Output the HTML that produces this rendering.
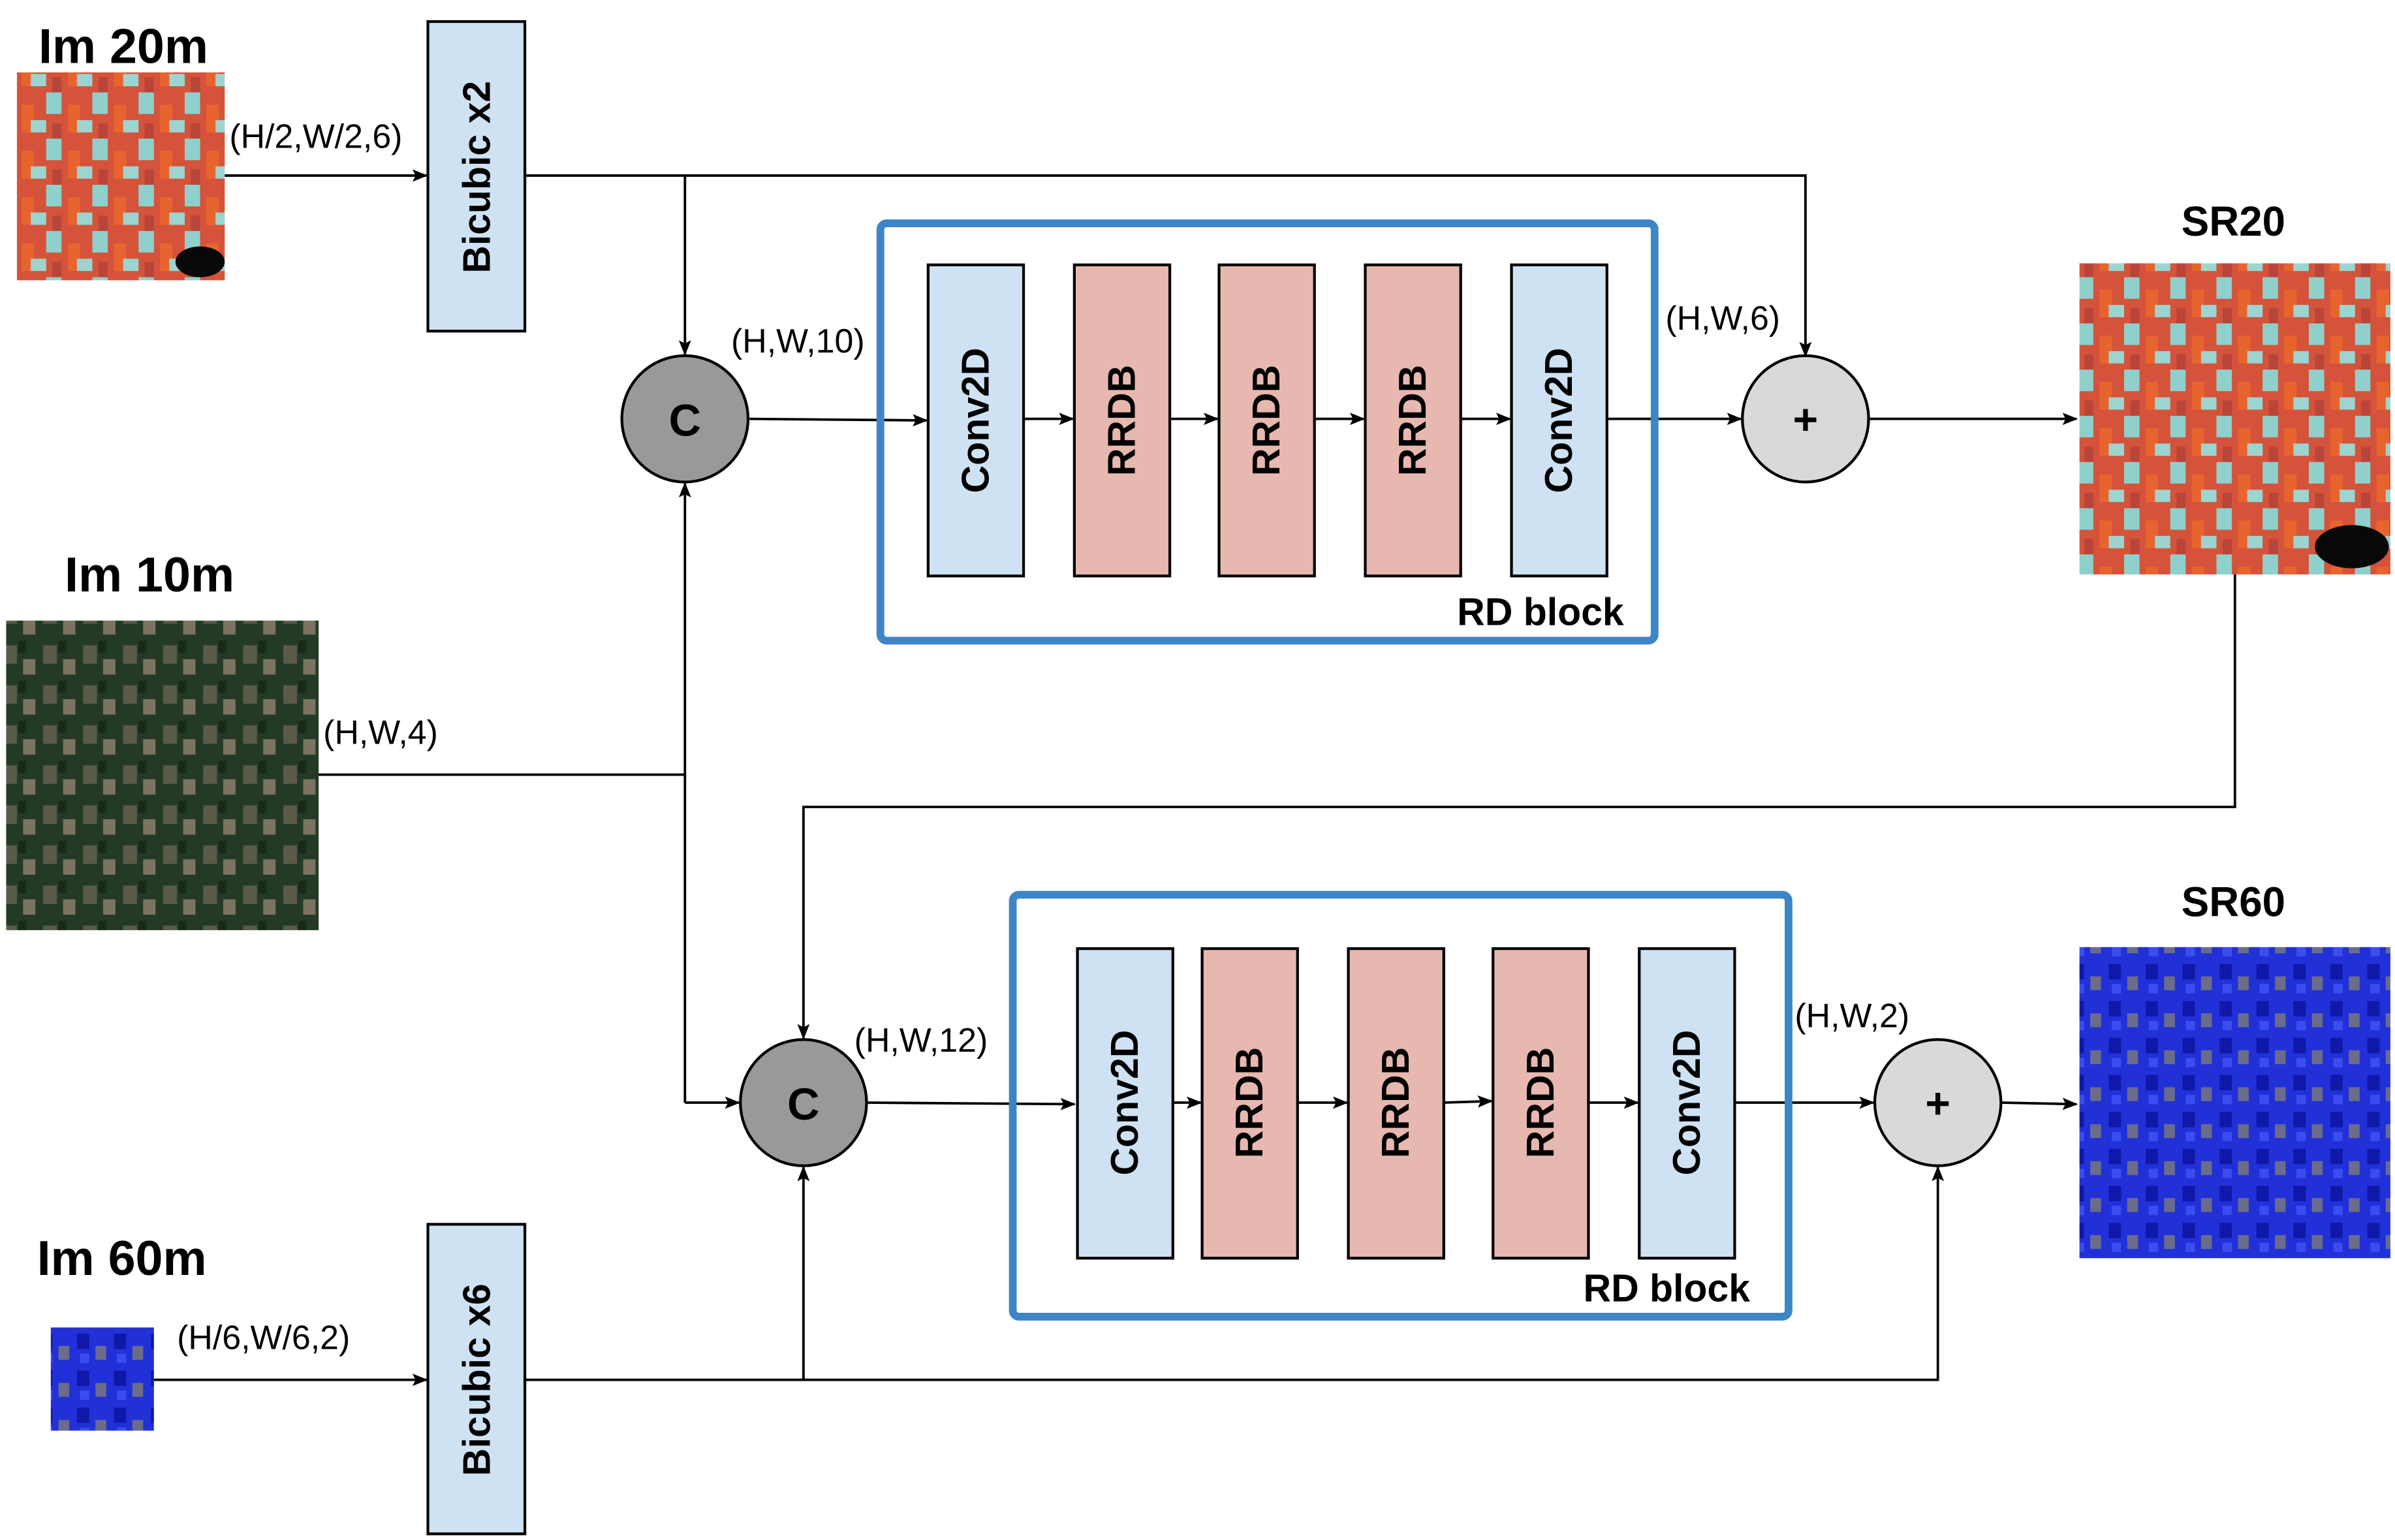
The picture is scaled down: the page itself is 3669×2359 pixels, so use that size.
<!DOCTYPE html>
<html><head><meta charset="utf-8"><style>html,body{margin:0;padding:0;background:#fff}svg{display:block}</style></head>
<body>
<svg width="3669" height="2359" viewBox="0 0 1556 1000" preserveAspectRatio="none" xmlns="http://www.w3.org/2000/svg" font-family="Liberation Sans, Arial, sans-serif">
<defs>
<marker id="a" markerWidth="10" markerHeight="8" refX="9" refY="4" orient="auto" markerUnits="userSpaceOnUse"><path d="M0,0 L10,4 L0,8 L2,4 z" fill="#000"/></marker>
<pattern id="p20" width="30" height="30" patternUnits="userSpaceOnUse">
<rect width="30" height="30" fill="#d5533a"/><rect x="0" y="0" width="10" height="14" fill="#8fd0cc"/><rect x="14" y="8" width="8" height="18" fill="#e8642f"/><rect x="20" y="18" width="10" height="8" fill="#9cd4cf"/><rect x="4" y="20" width="6" height="10" fill="#b8453a"/></pattern>
<pattern id="p10" width="26" height="26" patternUnits="userSpaceOnUse">
<rect width="26" height="26" fill="#233a26"/><rect x="2" y="3" width="9" height="12" fill="#5a5a48"/><rect x="15" y="12" width="8" height="10" fill="#7a7460"/><rect x="12" y="0" width="5" height="8" fill="#172a19"/></pattern>
<pattern id="p60" width="24" height="24" patternUnits="userSpaceOnUse">
<rect width="24" height="24" fill="#2230d8"/><rect x="2" y="2" width="8" height="10" fill="#1018a8"/><rect x="14" y="10" width="7" height="9" fill="#6a6c8a"/><rect x="4" y="15" width="6" height="6" fill="#3a4ef0"/></pattern>
</defs>
<g font-weight="bold" font-size="32">
<text x="25" y="41">Im 20m</text>
<text x="42" y="384">Im 10m</text>
<text x="24" y="828">Im 60m</text>
<text x="1451" y="153" text-anchor="middle" font-size="27">SR20</text>
<text x="1451" y="595" text-anchor="middle" font-size="27">SR60</text>
</g>
<rect x="11" y="47" width="135" height="135" fill="url(#p20)"/>
<ellipse cx="130" cy="170" rx="16" ry="10" fill="#080808"/>
<rect x="4" y="403" width="203" height="201" fill="url(#p10)"/>
<rect x="33" y="862" width="67" height="67" fill="url(#p60)"/>
<rect x="1351" y="171" width="202" height="202" fill="url(#p20)"/>
<ellipse cx="1528" cy="355" rx="24" ry="14" fill="#080808"/>
<rect x="1351" y="615" width="202" height="202" fill="url(#p60)"/>
<g font-size="22">
<text x="149" y="96">(H/2,W/2,6)</text>
<text x="475" y="229">(H,W,10)</text>
<text x="1082" y="214">(H,W,6)</text>
<text x="210" y="483">(H,W,4)</text>
<text x="555" y="683">(H,W,12)</text>
<text x="1166" y="667">(H,W,2)</text>
<text x="115" y="876">(H/6,W/6,2)</text>
</g>
<g stroke="#000" stroke-width="1.6" fill="none">
<line x1="146" y1="114" x2="277" y2="114" marker-end="url(#a)"/>
<polyline points="341,114 1173,114 1173,231" marker-end="url(#a)"/>
<line x1="445" y1="114" x2="445" y2="230" marker-end="url(#a)"/>
<line x1="487" y1="272" x2="602" y2="273" marker-end="url(#a)"/>
<line x1="665" y1="272" x2="697" y2="272" marker-end="url(#a)"/>
<line x1="760" y1="272" x2="791" y2="272" marker-end="url(#a)"/>
<line x1="854" y1="272" x2="886" y2="272" marker-end="url(#a)"/>
<line x1="949" y1="272" x2="981" y2="272" marker-end="url(#a)"/>
<line x1="1044" y1="272" x2="1131" y2="272" marker-end="url(#a)"/>
<line x1="1214" y1="272" x2="1349" y2="272" marker-end="url(#a)"/>
<polyline points="1452,373 1452,524 522,524 522,674" marker-end="url(#a)"/>
<line x1="207" y1="503" x2="445" y2="503"/>
<line x1="445" y1="716" x2="445" y2="314" marker-end="url(#a)"/>
<line x1="445" y1="716" x2="480" y2="716" marker-end="url(#a)"/>
<line x1="563" y1="716" x2="698" y2="717" marker-end="url(#a)"/>
<line x1="762" y1="716" x2="780" y2="716" marker-end="url(#a)"/>
<line x1="843" y1="716" x2="875" y2="716" marker-end="url(#a)"/>
<line x1="938" y1="716" x2="969" y2="715" marker-end="url(#a)"/>
<line x1="1032" y1="716" x2="1064" y2="716" marker-end="url(#a)"/>
<line x1="1127" y1="716" x2="1217" y2="716" marker-end="url(#a)"/>
<line x1="1300" y1="716" x2="1349" y2="717" marker-end="url(#a)"/>
<line x1="100" y1="896" x2="277" y2="896" marker-end="url(#a)"/>
<polyline points="341,896 1259,896 1259,758" marker-end="url(#a)"/>
<line x1="522" y1="896" x2="522" y2="758" marker-end="url(#a)"/>
</g>
<g stroke="#000" stroke-width="1.8">
<rect x="278" y="14" width="63" height="201" fill="#cfe2f3"/>
<rect x="278" y="795" width="63" height="201" fill="#cfe2f3"/>
<rect x="603" y="172" width="62" height="202" fill="#cfe2f3"/>
<rect x="698" y="172" width="62" height="202" fill="#e6b8af"/>
<rect x="792" y="172" width="62" height="202" fill="#e6b8af"/>
<rect x="887" y="172" width="62" height="202" fill="#e6b8af"/>
<rect x="982" y="172" width="62" height="202" fill="#cfe2f3"/>
<rect x="700" y="616" width="62" height="201" fill="#cfe2f3"/>
<rect x="781" y="616" width="62" height="201" fill="#e6b8af"/>
<rect x="876" y="616" width="62" height="201" fill="#e6b8af"/>
<rect x="970" y="616" width="62" height="201" fill="#e6b8af"/>
<rect x="1065" y="616" width="62" height="201" fill="#cfe2f3"/>
<circle cx="445" cy="272" r="41" fill="#999"/>
<circle cx="522" cy="716" r="41" fill="#999"/>
<circle cx="1173" cy="272" r="41" fill="#d9d9d9"/>
<circle cx="1259" cy="716" r="41" fill="#d9d9d9"/>
</g>
<rect x="572" y="145" width="503" height="271" rx="4" fill="none" stroke="#3d85c6" stroke-width="5"/>
<rect x="658" y="581" width="504" height="274" rx="4" fill="none" stroke="#3d85c6" stroke-width="5"/>
<g font-weight="bold" font-size="25">
<text x="1055" y="406" text-anchor="end">RD block</text>
<text x="1137" y="845" text-anchor="end">RD block</text>
<text x="445" y="283" text-anchor="middle" font-size="29">C</text>
<text x="522" y="727" text-anchor="middle" font-size="29">C</text>
<text x="1173" y="282" text-anchor="middle" font-size="28">+</text>
<text x="1259" y="726" text-anchor="middle" font-size="28">+</text>
<g text-anchor="middle" dominant-baseline="central">
<text transform="translate(310,115) rotate(-90)">Bicubic x2</text>
<text transform="translate(310,896) rotate(-90)">Bicubic x6</text>
<text transform="translate(634,273) rotate(-90)">Conv2D</text>
<text transform="translate(729,273) rotate(-90)">RRDB</text>
<text transform="translate(823,273) rotate(-90)">RRDB</text>
<text transform="translate(918,273) rotate(-90)">RRDB</text>
<text transform="translate(1013,273) rotate(-90)">Conv2D</text>
<text transform="translate(731,716) rotate(-90)">Conv2D</text>
<text transform="translate(812,716) rotate(-90)">RRDB</text>
<text transform="translate(907,716) rotate(-90)">RRDB</text>
<text transform="translate(1001,716) rotate(-90)">RRDB</text>
<text transform="translate(1096,716) rotate(-90)">Conv2D</text>
</g>
</g>
</svg>
</body></html>
